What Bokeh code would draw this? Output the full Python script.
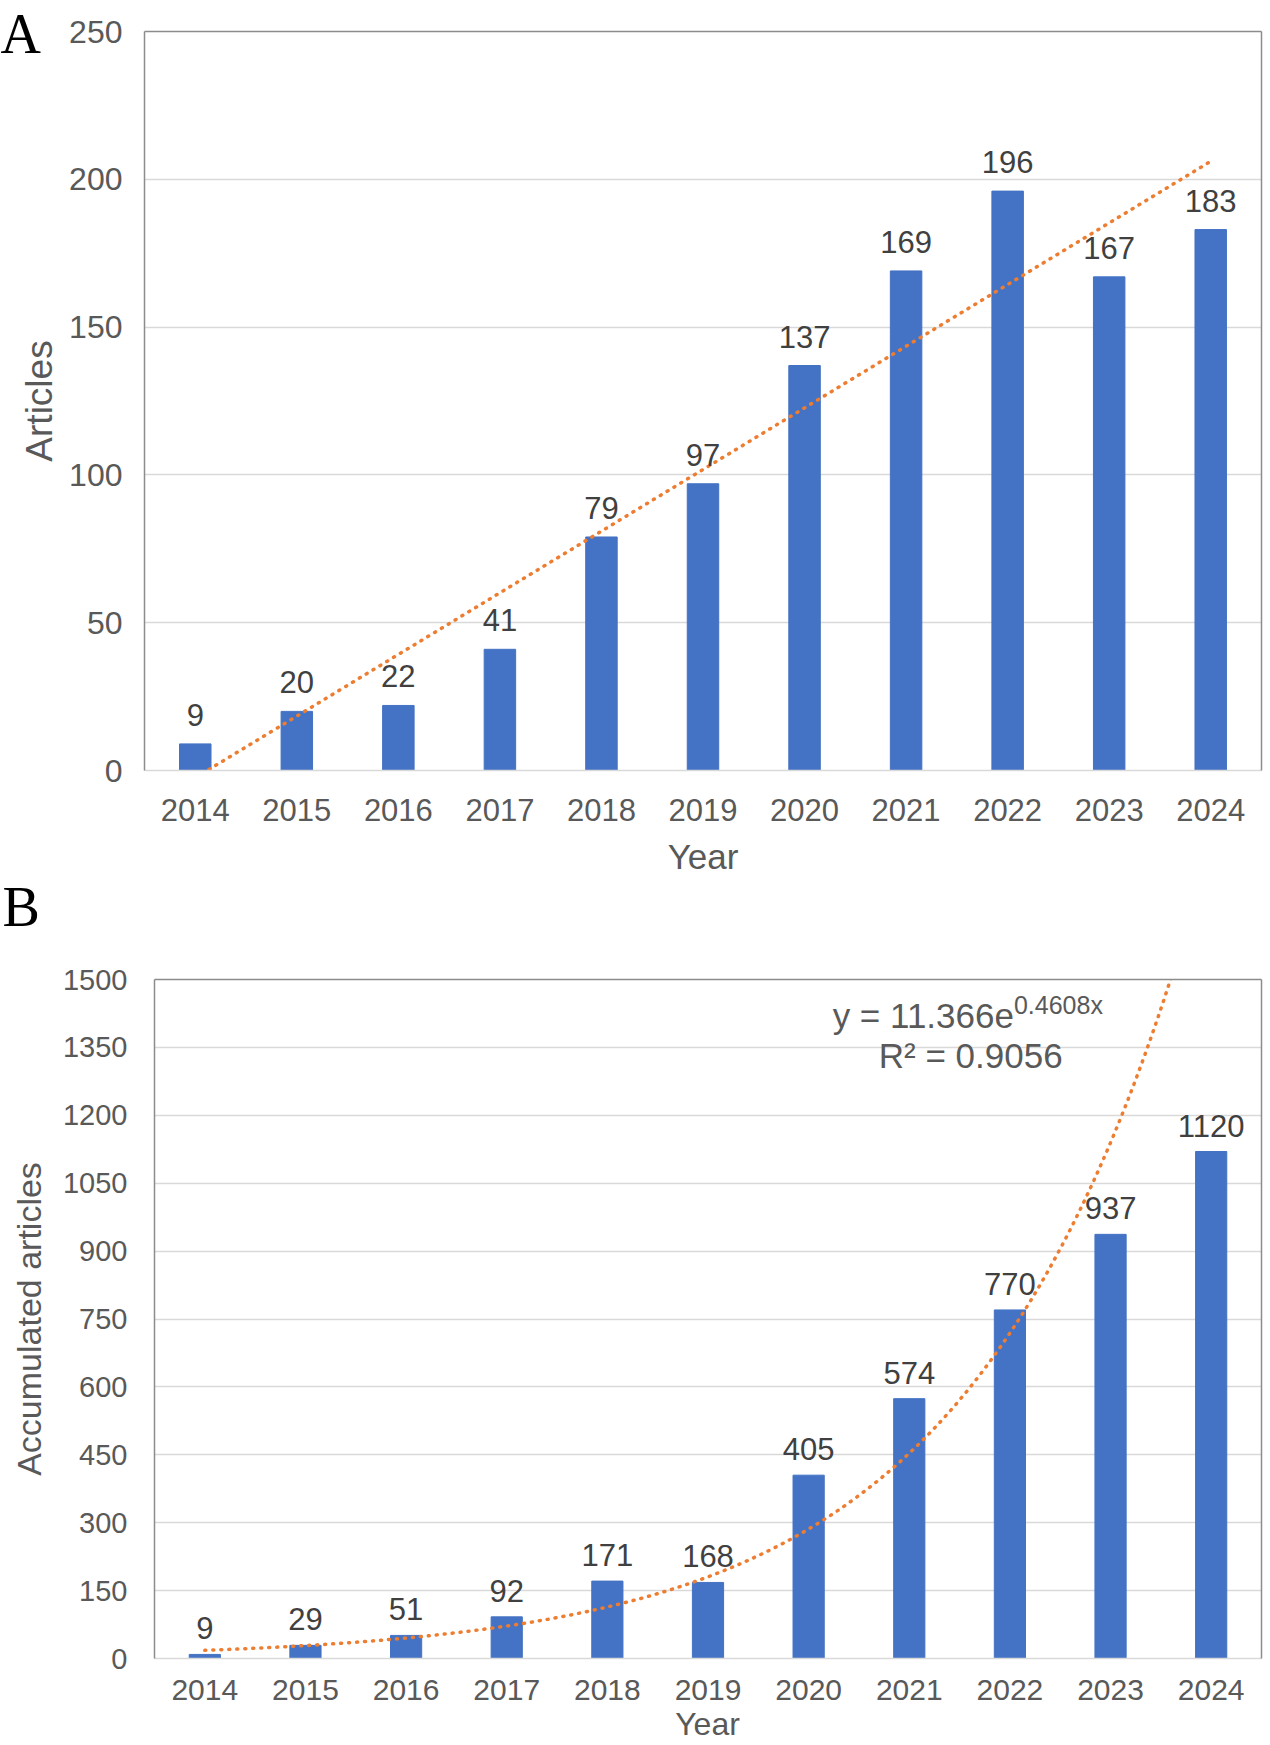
import numpy as np
from bokeh.plotting import figure
from bokeh.models import (Range1d, FixedTicker, ColumnDataSource, GridBox,
                          LinearAxis, Label)
from bokeh.core.properties import value
from bokeh.embed import file_html
from bokeh.resources import INLINE

# ---------------- data ----------------
years = [2014, 2015, 2016, 2017, 2018, 2019, 2020, 2021, 2022, 2023, 2024]
articles = [9, 20, 22, 41, 79, 97, 137, 169, 196, 167, 183]
accumulated = [9, 29, 51, 92, 171, 168, 405, 574, 770, 937, 1120]
a_yticks = [0, 50, 100, 150, 200, 250]
b_yticks = [0, 150, 300, 450, 600, 750, 900, 1050, 1200, 1350, 1500]
exp_coef = 11.366
exp_rate = 0.4608
r_squared = 0.9056
panel_letters = ["A", "B"]
x_title = "Year"

FONT = "Liberation Sans"
SERIF = "Liberation Serif"
BAR = "#4472C4"
TREND = "#ED7D31"
TICK = "#595959"
LBL = "#404040"
GRID = "#d9d9d9"
FRAME = "#8c8c8c"

PAGE_W, PAGE_H = 1270, 1745
HA = 898
HB = PAGE_H - HA


def edge_axis(p, side):
    ax = LinearAxis(ticker=FixedTicker(ticks=[]), axis_line_color=FRAME,
                    axis_line_width=1.5, major_tick_line_color=None,
                    minor_tick_line_color=None, major_label_text_font_size="0px",
                    major_tick_out=0, minor_tick_out=0, major_label_standoff=0)
    p.add_layout(ax, side)


def base_fig(h, ymax, yticks, border_left, border_top, border_bottom,
             ytick_size, ystand, ylab, ylab_size, ylab_standoff,
             xtick_size, xstand, xlab, xlab_stand, xlab_size):
    p = figure(width=PAGE_W, height=h, output_backend="svg", toolbar_location=None,
               x_range=Range1d(years[0] - 0.5, years[-1] + 0.5),
               y_range=Range1d(0, ymax), frame_align=False,
               min_border_left=border_left, min_border_right=9,
               min_border_top=border_top, min_border_bottom=border_bottom)
    p.background_fill_color = "white"
    p.border_fill_color = "white"
    p.outline_line_color = None
    p.xgrid.grid_line_color = None
    p.ygrid.grid_line_color = GRID
    p.ygrid.grid_line_width = 1.3
    p.xaxis.ticker = FixedTicker(ticks=years)
    p.yaxis.ticker = FixedTicker(ticks=yticks)
    for ax in (p.xaxis, p.yaxis):
        ax.major_tick_line_color = None
        ax.minor_tick_line_color = None
        ax.major_tick_out = 0
        ax.major_tick_in = 0
        ax.minor_tick_out = 0
        ax.minor_tick_in = 0
        ax.major_label_text_font = FONT
        ax.major_label_text_color = TICK
        ax.axis_label_text_font = FONT
        ax.axis_label_text_font_style = "normal"
        ax.axis_label_text_color = TICK
    p.yaxis.axis_line_color = FRAME
    p.yaxis.axis_line_width = 1.5
    p.xaxis.axis_line_color = GRID
    p.xaxis.axis_line_width = 1.5
    p.yaxis.major_label_text_font_size = f"{ytick_size}px"
    p.yaxis.major_label_standoff = ystand
    p.yaxis.axis_label = ylab
    p.yaxis.axis_label_text_font_size = f"{ylab_size}px"
    p.yaxis.axis_label_standoff = ylab_standoff
    p.xaxis.major_label_text_font_size = f"{xtick_size}px"
    p.xaxis.major_label_standoff = xstand
    if xlab:
        p.xaxis.axis_label = xlab
        p.xaxis.axis_label_text_font_size = f"{xlab_size}px"
        p.xaxis.axis_label_standoff = xlab_stand
    edge_axis(p, "above")
    edge_axis(p, "right")
    return p


# ---------------- panel A ----------------
pa = base_fig(HA, 250, a_yticks, 144, 31, 128, 32, 22, "Articles", 37, 6,
              31, 28, x_title, 13, 35)
src_a = ColumnDataSource(dict(x=years, y=articles, t=[str(v) for v in articles]))
pa.vbar(x="x", top="y", width=0.31, source=src_a, fill_color=BAR, line_color=BAR)
idx = np.arange(1, len(years) + 1)
slope, intercept = np.polyfit(idx, articles, 1)
pa.line(x=years, y=list(slope * idx + intercept), line_color=TREND, line_width=3.5,
        line_dash="1 7", line_cap="round")
pa.text(x="x", y="y", text="t", source=src_a, text_align="center",
        text_baseline="alphabetic", y_offset=-29, text_font=value(FONT),
        text_font_size="31px", text_color=LBL)

# ---------------- panel B ----------------
pb = base_fig(HB, 1500, b_yticks, 154, 81, 87, 29, 27, "Accumulated articles", 34, 12,
              30, 21, None, 0, 34)
src_b = ColumnDataSource(dict(x=years, y=accumulated, t=[str(v) for v in accumulated]))
pb.vbar(x="x", top="y", width=0.31, source=src_b, fill_color=BAR, line_color=BAR)
xs = np.linspace(1, len(years), 300)
pb.line(x=list(years[0] - 1 + xs), y=list(exp_coef * np.exp(exp_rate * xs)),
        line_color=TREND, line_width=3.5, line_dash="1 7", line_cap="round")
pb.text(x="x", y="y", text="t", source=src_b, text_align="center",
        text_baseline="alphabetic", y_offset=-26, text_font=value(FONT),
        text_font_size="31px", text_color=LBL)
pb.add_layout(Label(x=2022.04, y=1421, text=f"y = {exp_coef}e", text_font=FONT,
                    text_font_size="35px", text_color=TICK, text_align="right",
                    text_baseline="alphabetic"))
pb.add_layout(Label(x=2022.04, y=1443, text=f"{exp_rate}x", text_font=FONT,
                    text_font_size="25px", text_color=TICK, text_align="left",
                    text_baseline="alphabetic"))
pb.add_layout(Label(x=2021.61, y=1333, text=f"R\u00b2 = {r_squared}", text_font=FONT,
                    text_font_size="35px", text_color=TICK, text_align="center",
                    text_baseline="alphabetic"))

# ---------------- transparent page overlay: panel letters, lower x title ----------------
ov = figure(width=PAGE_W, height=PAGE_H, output_backend="svg", toolbar_location=None,
            x_range=Range1d(0, PAGE_W), y_range=Range1d(PAGE_H, 0),
            x_axis_type=None, y_axis_type=None, frame_align=False,
            min_border_left=0, min_border_right=0, min_border_top=0, min_border_bottom=0)
ov.background_fill_color = None
ov.border_fill_color = None
ov.outline_line_color = None
ov.grid.visible = False
ov.text(x=[0, 2], y=[33, 906], text=panel_letters, text_font=value(SERIF),
        text_font_size="56px", text_color="black", text_align="left",
        text_baseline="middle")
ov.text(x=[707], y=[1723], text=[x_title], text_font=value(FONT),
        text_font_size="32px", text_color=TICK, text_align="center",
        text_baseline="middle")

layout = GridBox(children=[(pa, 0, 0), (pb, 1, 0), (ov, 0, 0, 2, 1)], spacing=0)
open("out.html", "w").write(file_html(layout, INLINE))
